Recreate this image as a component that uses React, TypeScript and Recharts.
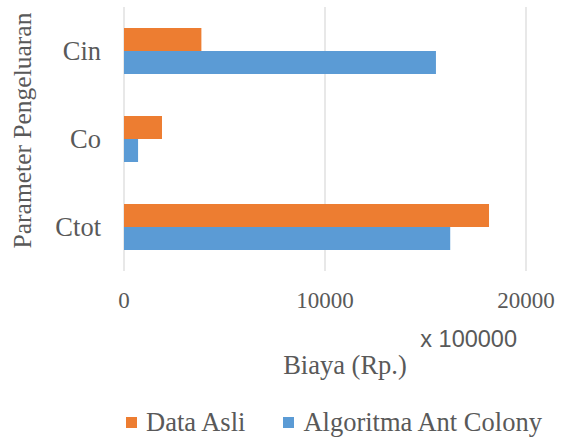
import { Bar, BarChart, CartesianGrid, Label, Legend, XAxis, YAxis } from "recharts"

const categories = ["Cin", "Co", "Ctot"]
const dataAsli = [3850, 1890, 18160]
const antColony = [15520, 700, 16230]
const xTicks = [0, 10000, 20000]

const seriesNames = ["Data Asli", "Algoritma Ant Colony"]
const seriesColors = ["#ED7D31", "#5B9BD5"]

const SERIF = "'Liberation Serif', 'Times New Roman', serif"
const TEXT = "#595959"

const data = categories.map((name, i) => ({
    name,
    asli: dataAsli[i],
    ant: antColony[i],
}))

const XTitles = (props: any) => {
    const { x, y, width } = props.viewBox
    return (
        <g>
            <text
                x={x + width - 9}
                y={y + 75.5}
                textAnchor="end"
                fontFamily="'Liberation Sans', Arial, sans-serif"
                fontSize={23.5}
                fill={TEXT}
            >
                x 100000
            </text>
            <text x={x + 221} y={y + 103} textAnchor="middle" fontFamily={SERIF} fontSize={26.5} fill={TEXT}>
                Biaya (Rp.)
            </text>
        </g>
    )
}

const YTitle = (props: any) => {
    const { y, height } = props.viewBox
    const cy = y + height / 2 - 8.5
    return (
        <text
            x={31}
            y={cy}
            transform={`rotate(-90, 31, ${cy})`}
            textAnchor="middle"
            fontFamily={SERIF}
            fontSize={25.5}
            fill={TEXT}
        >
            Parameter Pengeluaran
        </text>
    )
}

const LegendBox = () => (
    <div
        style={{
            display: "flex",
            alignItems: "center",
            boxSizing: "border-box",
            height: 40,
            paddingTop: 10,
            paddingLeft: 126,
            fontFamily: SERIF,
            fontSize: 26.5,
            color: TEXT,
            whiteSpace: "nowrap",
        }}
    >
        {seriesNames.map((n, i) => (
            <div key={n} style={{ display: "flex", alignItems: "center", marginRight: i === 0 ? 38 : 0 }}>
                <span style={{ width: 11, height: 11, background: seriesColors[i], marginRight: 9, display: "inline-block" }} />
                <span>{n}</span>
            </div>
        ))}
    </div>
)

export default function App() {
    return (
        <div style={{ position: "absolute", left: 0, top: 0, width: 565, height: 437, background: "#fff" }}>
            <BarChart
                width={565}
                height={437}
                layout="vertical"
                data={data}
                barCategoryGap="24%"
                barGap={0}
                margin={{ top: 7, right: 39, bottom: 0, left: 0 }}
            >
                <CartesianGrid horizontal={false} vertical stroke="#D9D9D9" strokeWidth={1.2} />
                <XAxis
                    type="number"
                    domain={[0, 20000]}
                    ticks={xTicks}
                    axisLine={false}
                    tickLine={false}
                    tickSize={6}
                    tickMargin={15}
                    height={126}
                    tick={{ fontFamily: SERIF, fontSize: 23, fill: TEXT }}
                >
                    <Label content={<XTitles />} />
                </XAxis>
                <YAxis
                    type="category"
                    dataKey="name"
                    width={124}
                    axisLine={false}
                    tickLine={false}
                    tickSize={6}
                    tickMargin={17}
                    tick={{ fontFamily: SERIF, fontSize: 26.5, fill: TEXT }}
                >
                    <Label content={<YTitle />} />
                </YAxis>
                <Legend
                    verticalAlign="bottom"
                    content={<LegendBox />}
                    wrapperStyle={{ left: 0, bottom: 0, width: 565, height: 40 }}
                />
                <Bar dataKey="asli" name={seriesNames[0]} fill={seriesColors[0]} isAnimationActive={false} />
                <Bar dataKey="ant" name={seriesNames[1]} fill={seriesColors[1]} isAnimationActive={false} />
            </BarChart>
        </div>
    )
}
